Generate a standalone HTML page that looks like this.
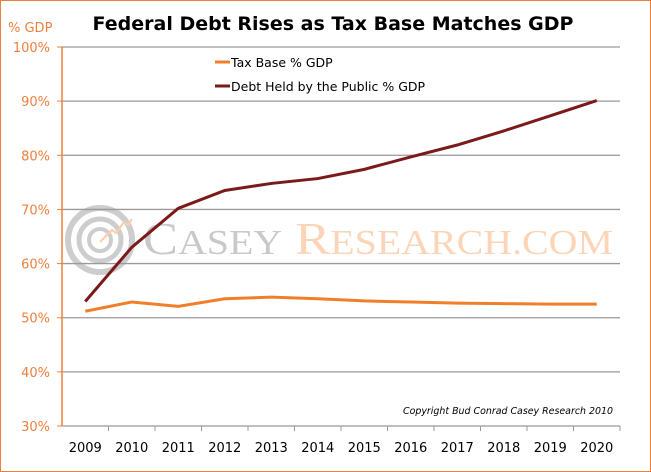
<!DOCTYPE html>
<html><head><meta charset="utf-8"><style>
body{margin:0;background:#fff}
svg{display:block;font-family:"DejaVu Sans","Liberation Sans",sans-serif}
</style></head><body>
<svg id="c" width="651" height="472" viewBox="0 0 651 472">
<rect x="0.5" y="0.5" width="650" height="471" fill="#fff" stroke="#f07f3c"/>
<text x="333" y="30" text-anchor="middle" font-size="19" font-weight="bold" fill="#000">Federal Debt Rises as Tax Base Matches GDP</text>
<text x="8" y="32" font-size="13" fill="#f07f3c">% GDP</text>
<g id="wm" opacity="0.9">
<circle cx="100" cy="240" r="32" fill="none" stroke="#c8c8c8" stroke-width="6"/>
<circle cx="100" cy="240" r="21" fill="none" stroke="#c8c8c8" stroke-width="5"/>
<circle cx="100" cy="240" r="11" fill="none" stroke="#c8c8c8" stroke-width="4"/>
<polyline points="100,242 112,230 116,233 124,222 128,225 132,219" fill="none" stroke="#fcc9a4" stroke-width="2"/>
<text x="143" y="254" font-family="Liberation Serif,serif" font-size="46" fill="#c4c4c4" textLength="470" lengthAdjust="spacingAndGlyphs">C<tspan font-size="35">ASEY</tspan> <tspan fill="#fcd0b0">R<tspan font-size="35">ESEARCH.COM</tspan></tspan></text>
</g>
<g id="axes"></g>
<g id="series"></g>
<g>
<line x1="215" y1="62" x2="230" y2="62" stroke="#f07f2c" stroke-width="3"/>
<text x="231" y="67" font-size="12.5" fill="#000">Tax Base % GDP</text>
<line x1="215" y1="86" x2="230" y2="86" stroke="#7b1a1a" stroke-width="3"/>
<text x="231" y="91" font-size="12.5" fill="#000">Debt Held by the Public % GDP</text>
</g>
<text x="613" y="414" text-anchor="end" font-size="10" font-style="italic" fill="#000" textLength="210" lengthAdjust="spacingAndGlyphs">Copyright Bud Conrad Casey Research 2010</text>
</svg>
<script>
const years=["2009","2010","2011","2012","2013","2014","2015","2016","2017","2018","2019","2020"];
const taxBase=[51.2,52.9,52.1,53.5,53.8,53.5,53.1,52.9,52.7,52.6,52.5,52.5];
const debtHeld=[53,63,70.2,73.5,74.8,75.7,77.4,79.7,81.9,84.5,87.3,90.1];
const yTicks=[30,40,50,60,70,80,90,100];
const NS="http://www.w3.org/2000/svg";
const X0=62,X1=620,Y0=426,Y1=47;
const x=i=>X0+(X1-X0)*(i+0.5)/years.length;
const y=v=>Y0-(v-30)/70*(Y0-Y1);
function mk(t,a,p){const e=document.createElementNS(NS,t);for(const k in a)e.setAttribute(k,a[k]);p.appendChild(e);return e;}
const ax=document.getElementById('axes');
yTicks.forEach(v=>{
 if(v>30){const g=mk('line',{x1:X0,x2:X1,y1:y(v),y2:y(v),stroke:'#9a9a9a','stroke-width':1.3},ax);
 
 }
 const tk=mk('line',{x1:X0-5,x2:X0,y1:y(v),y2:y(v),stroke:'#f07f3c'},ax);
 
 
 const t=mk('text',{x:X0-12,y:y(v)+5,'text-anchor':'end','font-size':13,fill:'#f07f3c'},ax);t.textContent=v+'%';
 
 
});
const ya=mk('line',{x1:X0,x2:X0,y1:Y1,y2:Y0,stroke:'#f07f3c','stroke-width':1.5},ax);


const xa=mk('line',{x1:X0,x2:X1,y1:Y0,y2:Y0,stroke:'#9a9a9a','stroke-width':1.3},ax);


years.forEach((yr,i)=>{
 const tk=mk('line',{x1:X0+(X1-X0)*(i+1)/years.length,x2:X0+(X1-X0)*(i+1)/years.length,y1:Y0,y2:Y0+5,stroke:'#9a9a9a'},ax);
 
 
 const t=mk('text',{x:x(i),y:Y0+26,'text-anchor':'middle','font-size':13,fill:'#000'},ax);t.textContent=yr;
 
 
});
const se=document.getElementById('series');
const p1=mk('polyline',{points:taxBase.map((v,i)=>x(i)+','+y(v)).join(' '),fill:'none',stroke:'#f07f2c','stroke-width':3},se);


const p2=mk('polyline',{points:debtHeld.map((v,i)=>x(i)+','+y(v)).join(' '),fill:'none',stroke:'#7b1a1a','stroke-width':3},se);


</script>
</body></html>
